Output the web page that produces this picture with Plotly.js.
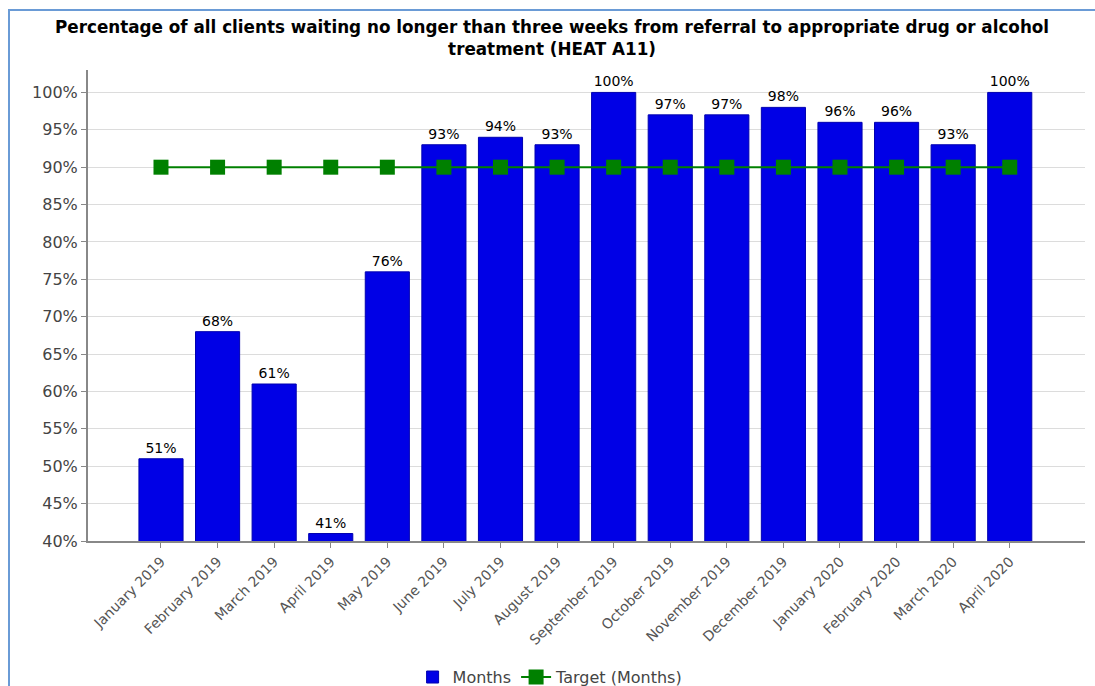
<!DOCTYPE html>
<html>
<head>
<meta charset="utf-8">
<script src="https://cdn.plot.ly/plotly-3.0.1.min.js"></script>
<style>
html,body{margin:0;padding:0;background:#fff;}
#chart{width:1095px;height:686px;}
#frame{position:absolute;left:8px;top:9px;width:1100px;height:700px;border:2px solid #6a9bd6;pointer-events:none;}
</style>
</head>
<body>
<div id="chart"></div>
<div id="frame"></div>
<script>
const months = ["January 2019","February 2019","March 2019","April 2019","May 2019","June 2019","July 2019","August 2019","September 2019","October 2019","November 2019","December 2019","January 2020","February 2020","March 2020","April 2020"];
const values = [51,68,61,41,76,93,94,93,100,97,97,98,96,96,93,100];
const target = [90,90,90,90,90,90,90,90,90,90,90,90,90,90,90,90];
const valueLabels = values.map(v => v + "%");
const yTicks = [40,45,50,55,60,65,70,75,80,85,90,95,100];
const yTickLabels = yTicks.map(v => v + "%");
const titleText = "Percentage of all clients waiting no longer than three weeks from referral to appropriate drug or alcohol<br>treatment (HEAT A11)";

const font = "DejaVu Sans, Verdana, sans-serif";

const traces = [
  {
    type: "bar", name: "Months", x: months, y: values,
    text: valueLabels, textposition: "outside", cliponaxis: false,
    textfont: {family: font, size: 14, color: "#000"},
    marker: {color: "#0000e6", line: {color: "#0000b0", width: 1}},
    width: 0.78, hoverinfo: "skip"
  },
  {
    type: "scatter", mode: "lines+markers", name: "Target (Months)", x: months, y: target,
    line: {color: "#008000", width: 2},
    marker: {symbol: "square", size: 15, color: "#008000"},
    hoverinfo: "skip"
  }
];

const layout = {
  width: 1095, height: 686,
  margin: {l: 88, r: 10, t: 70, b: 145, autoexpand: false},
  paper_bgcolor: "#fff", plot_bgcolor: "#fff",
  annotations: [{
    text: "<b>" + titleText.replace("<br>", "</b><br><b>") + "</b>",
    xref: "paper", yref: "paper", x: 0.465, xanchor: "center",
    y: 1 + (70 - 38) / 471, yanchor: "middle", showarrow: false,
    font: {family: font, size: 16.8, color: "#000"}
  }],
  xaxis: {
    type: "category", range: [-1.29, 16.33], automargin: false,
    tickangle: -45, tickfont: {family: font, size: 14, color: "#555"},
    showline: true, linecolor: "#888", linewidth: 2,
    ticks: "outside", ticklen: 5, tickcolor: "#888",
    showgrid: false, fixedrange: true
  },
  yaxis: {
    range: [40, 103], tickvals: yTicks, ticktext: yTickLabels, automargin: false,
    tickfont: {family: font, size: 16, color: "#444"},
    showline: true, linecolor: "#888", linewidth: 2,
    ticks: "outside", ticklen: 5, tickcolor: "#888",
    gridcolor: "#dcdcdc", gridwidth: 1, zeroline: false, fixedrange: true
  },
  showlegend: true,
  legend: {
    orientation: "h", x: 0.464, xanchor: "center", y: -0.289, yanchor: "middle",
    font: {family: font, size: 16, color: "#444"}, itemwidth: 30
  },
  bargap: 0.22
};

Plotly.newPlot("chart", traces, layout, {displayModeBar: false, staticPlot: true});
</script>
</body>
</html>
